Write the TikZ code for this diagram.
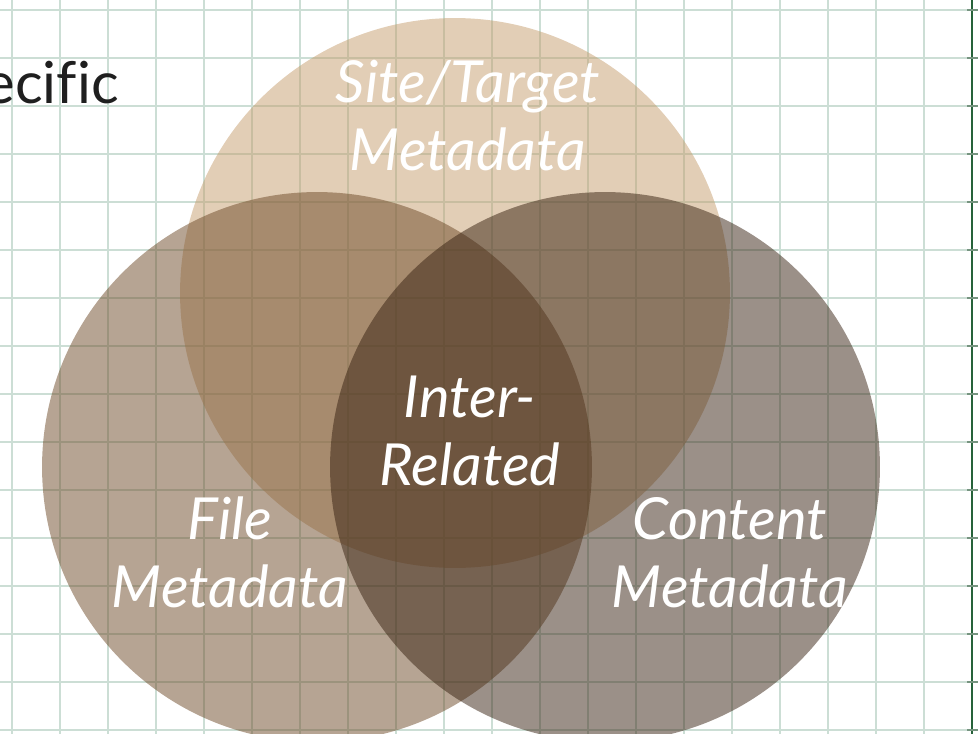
\documentclass[tikz,border=0pt]{standalone}
\usepackage{fontspec}
\setmainfont{Lato}[Ligatures=NoCommon]
\usetikzlibrary{positioning}
\definecolor{gridline}{RGB}{204,222,213}
\definecolor{gridedge}{RGB}{38,98,58}
\definecolor{gridtick}{RGB}{118,148,128}
\definecolor{sitetan}{RGB}{197,157,109}
\definecolor{filebrown}{RGB}{109,73,39}
\definecolor{contentbrown}{RGB}{55,33,17}

\begin{document}
\begin{tikzpicture}[x=0.02cm, y=-0.02cm,
  setcircle/.style={circle, minimum size=11cm, inner sep=0pt, fill opacity=0.5},
  setlabel/.style={text=white, font=\fontsize{33}{38.7}\selectfont\itshape, align=center, inner sep=0pt, anchor=base}]
\useasboundingbox (0,0) rectangle (978,734);
\clip (0,0) rectangle (978,734);

% Grid paper
\foreach \gx in {12,60,...,924}
  \draw[gridline, line width=0.8pt] (\gx,0) -- (\gx,734);
\foreach \gy in {10,58,...,730}
  \draw[gridline, line width=0.8pt] (0,\gy) -- (978,\gy);
\draw[gridedge, line width=0.9pt] (972,0) -- (972,734);
\foreach \gy in {10,58,...,730}
  \draw[gridtick, line width=1.2pt] (967,\gy) -- (978,\gy);

% Heading at the edge
\node[anchor=base east, font=\fontsize{33}{40}\selectfont, text=black!88, inner sep=0pt] (specific) at (119,103) {ecific};

% Sets
\node[setcircle, fill=sitetan] (site) at (455,293) {};
\node[setcircle, fill=filebrown] (file) at (317,467) {};
\node[setcircle, fill=contentbrown] (content) at (605,467) {};

% Labels (base = last line)
\node[setlabel] (sitelbl) at (468,170) {Site/Target\\Metadata};
\node[setlabel] (interlbl) at (470,485) {Inter-\\Related};
\node[setlabel] (filelbl) at (230,607) {File\\Metadata};
\node[setlabel] (contentlbl) at (730,607) {Content\\Metadata};

\end{tikzpicture}
\end{document}
